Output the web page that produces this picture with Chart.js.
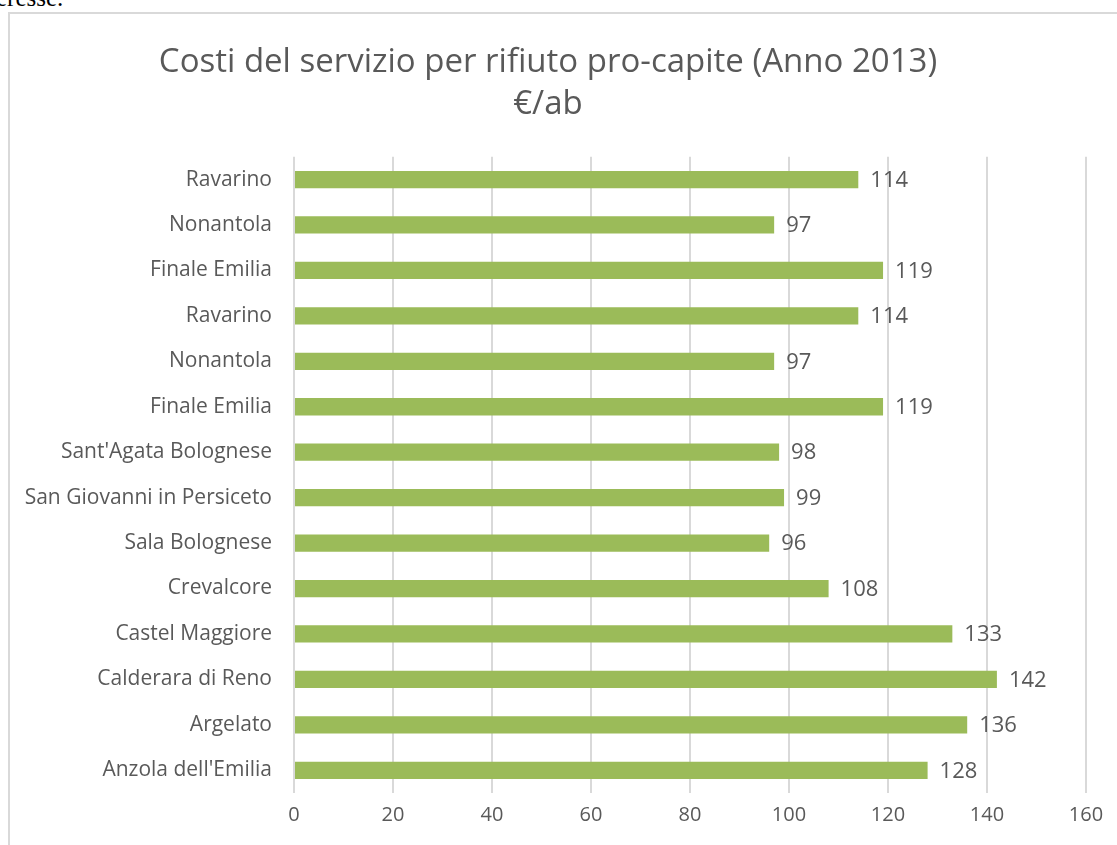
<!DOCTYPE html>
<html lang="it">
<head>
<meta charset="utf-8">
<title>Costi del servizio per rifiuto pro-capite</title>
<script src="https://cdn.jsdelivr.net/npm/chart.js@4/dist/chart.umd.min.js"></script>
<style>
    html, body {
        margin: 0;
        padding: 0;
        background: #ffffff;
        overflow: hidden;
    }
    .testo-doc {
        position: absolute;
        left: -4px;
        top: -16px;
        font-family: 'Liberation Serif', serif;
        font-size: 25px;
        color: #000;
    }
    .riquadro {
        position: absolute;
        left: 8px;
        top: 12px;
        width: 1130px;
        height: 850px;
        border: 2px solid #d9d9d9;
        box-sizing: border-box;
    }
    .riquadro canvas {
        position: absolute;
        left: 0;
        top: 0;
    }
</style>
</head>
<body>
<div class="testo-doc">eresse.</div>
<div class="riquadro">
    <canvas id="barChart" width="1120" height="832"></canvas>
</div>
<script>
// Dati del grafico (dall'alto verso il basso)
const comuni = [
    'Ravarino', 'Nonantola', 'Finale Emilia', 'Ravarino', 'Nonantola', 'Finale Emilia',
    "Sant'Agata Bolognese", 'San Giovanni in Persiceto', 'Sala Bolognese', 'Crevalcore',
    'Castel Maggiore', 'Calderara di Reno', 'Argelato', "Anzola dell'Emilia"
];
const costiProCapite = [114, 97, 119, 114, 97, 119, 98, 99, 96, 108, 133, 142, 136, 128];
const titolo = ['Costi del servizio per rifiuto pro-capite (Anno 2013)', '€/ab'];
const asseMin = 0;
const asseMax = 160;
const passo = 20;

const fontBase = "'Open Sans', 'Noto Sans', sans-serif";
const grigioTesto = '#595959';

// Etichette dei valori a destra delle barre
const etichetteValori = {
    id: 'etichetteValori',
    afterDatasetsDraw(chart) {
        const ctx = chart.ctx;
        const meta = chart.getDatasetMeta(0);
        ctx.save();
        ctx.font = `22px ${fontBase}`;
        ctx.fillStyle = grigioTesto;
        ctx.textAlign = 'left';
        ctx.textBaseline = 'middle';
        meta.data.forEach((bar, i) => {
            ctx.fillText(String(chart.data.datasets[0].data[i]), bar.x + 12, bar.y + 1);
        });
        ctx.restore();
    }
};

document.addEventListener('DOMContentLoaded', () => {
    const ctx = document.getElementById('barChart');

    new Chart(ctx, {
        type: 'bar',
        data: {
            labels: comuni,
            datasets: [{
                data: costiProCapite,
                backgroundColor: '#9bbb59',
                borderWidth: 0,
                categoryPercentage: 1,
                barPercentage: 0.38
            }]
        },
        options: {
            indexAxis: 'y',
            responsive: false,
            animation: false,
            layout: {
                padding: { left: 0, right: 44, top: 0, bottom: 0 }
            },
            plugins: {
                legend: { display: false },
                tooltip: { enabled: false },
                title: {
                    display: true,
                    text: titolo,
                    color: grigioTesto,
                    font: { size: 33, family: fontBase, weight: 'normal', lineHeight: 1.27 },
                    padding: { top: 28, bottom: 31 }
                }
            },
            scales: {
                x: {
                    min: asseMin,
                    max: asseMax,
                    afterFit: (scale) => { scale.height = 53; },
                    ticks: {
                        stepSize: passo,
                        color: grigioTesto,
                        padding: 10,
                        font: { size: 20, family: fontBase }
                    },
                    grid: {
                        color: '#d9d9d9',
                        lineWidth: 2,
                        drawTicks: false
                    },
                    border: { display: false }
                },
                y: {
                    afterFit: (scale) => { scale.width = 284; },
                    ticks: {
                        color: grigioTesto,
                        padding: 22,
                        font: { size: 21, family: fontBase }
                    },
                    grid: { display: false, drawTicks: false },
                    border: { display: false }
                }
            }
        },
        plugins: [etichetteValori]
    });
});
</script>
</body>
</html>
